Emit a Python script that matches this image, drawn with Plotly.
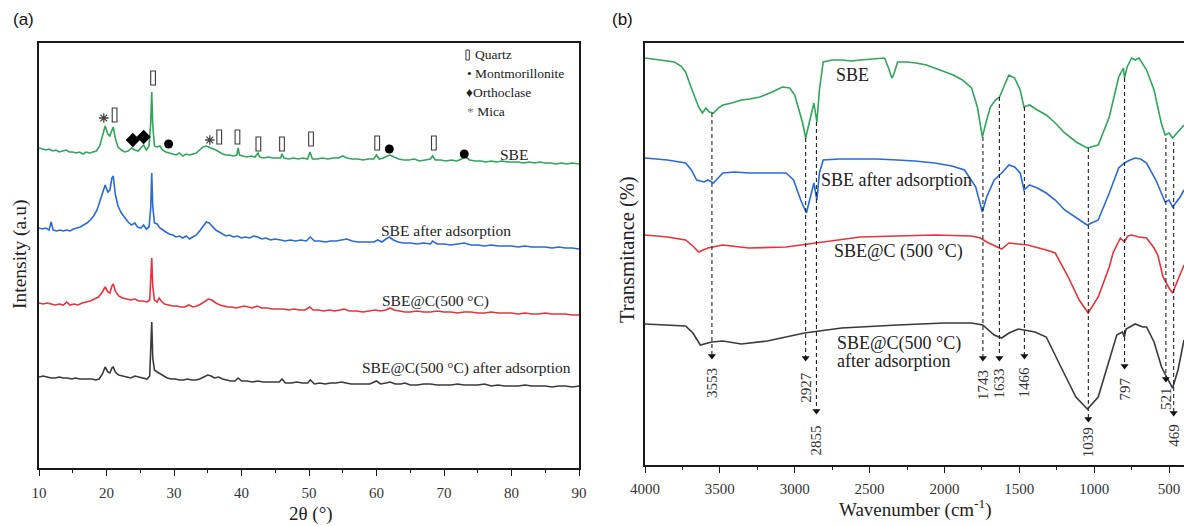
import plotly.graph_objects as go

# ---------------- (a) XRD data ----------------
xrd_2theta_sbe = [10, 10.5, 11, 11.5, 12, 12.5, 13, 13.5, 14, 14.5, 15, 15.5, 16, 16.5, 17, 17.5, 18, 18.5, 19, 19.4, 19.8, 20.2, 20.5, 20.7, 21.0, 21.3, 21.7, 22.2, 22.7, 23.2, 23.7, 24.2, 24.7, 25.2, 25.5, 25.9, 26.3, 26.55, 26.7, 26.85, 27.1, 27.5, 27.9, 28.3, 28.8, 29.3, 29.8, 30.3, 30.8, 31.3, 31.8, 32.3, 32.8, 33.3, 33.8, 34.3, 34.8, 35.2, 35.7, 36.2, 36.7, 37.2, 37.7, 38.2, 38.8, 39.3, 39.5, 39.7, 40.2, 40.8, 41.4, 42.0, 42.45, 42.7, 43.3, 44.0, 44.6, 45.3, 45.8, 46.0, 46.3, 47.0, 47.7, 48.4, 49.1, 49.8, 50.15, 50.5, 51.2, 52.0, 52.8, 53.6, 54.4, 55.0, 55.6, 56.4, 57.2, 58.0, 58.8, 59.6, 60.0, 60.4, 61.0, 61.6, 62.0, 62.6, 63.3, 64.0, 64.8, 65.6, 66.4, 67.2, 68.0, 68.3, 68.7, 69.5, 70.3, 71.1, 71.9, 72.6, 73.2, 73.8, 74.6, 75.4, 76.2, 77.0, 77.8, 78.6, 79.4, 80.2, 81.0, 81.8, 82.6, 83.4, 84.2, 85.0, 85.8, 86.6, 87.4, 88.2, 89.0, 90]
xrd_sbe = [320, 319, 318, 319, 317, 318, 316, 317, 318, 316, 316, 315, 316, 314, 316, 315, 316, 317, 322, 332, 342, 334, 332, 336, 341, 330, 321, 318, 316, 317, 320, 318, 317, 321, 323, 318, 322, 345, 376, 343, 322, 321, 322, 318, 316, 315, 314, 313, 315, 312, 314, 313, 314, 315, 318, 321, 322, 321, 319, 318, 316, 314, 313, 313, 312, 313, 320, 313, 312, 311, 312, 311, 315, 311, 310, 311, 310, 310, 310, 314, 310, 309, 310, 309, 310, 309, 316, 309, 309, 310, 309, 310, 310, 312, 310, 309, 309, 308, 309, 309, 313, 309, 310, 312, 313, 311, 309, 308, 308, 309, 307, 308, 309, 312, 308, 308, 307, 308, 307, 309, 311, 308, 307, 307, 306, 307, 306, 307, 306, 306, 306, 305, 306, 305, 306, 305, 305, 304, 305, 304, 305, 304]

xrd_2theta_ads = [10, 10.5, 11, 11.5, 11.8, 12.1, 12.6, 13.1, 13.6, 14.1, 14.6, 15.1, 15.6, 16.1, 16.6, 17.1, 17.6, 18.1, 18.6, 19.0, 19.4, 19.8, 20.2, 20.5, 20.8, 21.0, 21.3, 21.7, 22.2, 22.7, 23.2, 23.7, 24.2, 24.6, 25.1, 25.5, 25.9, 26.3, 26.55, 26.7, 26.85, 27.1, 27.5, 27.9, 28.3, 28.8, 29.3, 29.8, 30.3, 30.8, 31.3, 31.8, 32.3, 32.8, 33.3, 33.8, 34.3, 34.8, 35.2, 35.7, 36.2, 36.7, 37.2, 37.7, 38.2, 38.8, 39.4, 40.0, 40.6, 41.2, 41.8, 42.4, 43.0, 43.6, 44.3, 45.0, 45.8, 46.5, 47.2, 48.0, 48.8, 49.6, 50.2, 50.8, 51.6, 52.4, 53.2, 54.0, 54.8, 55.6, 56.4, 57.2, 58.0, 58.8, 59.6, 60.2, 60.8, 61.4, 61.9, 62.5, 63.2, 64.0, 65.0, 66.0, 67.0, 68.0, 68.3, 69.0, 70.0, 71.0, 72.0, 73.0, 74.0, 75.0, 76.0, 77.0, 78.0, 79.0, 80.0, 81.0, 82.0, 83.0, 84.0, 85.0, 86.0, 87.0, 88.0, 89.0, 90]
xrd_sbe_ads = [240, 239, 240, 238, 246, 238, 237, 238, 237, 238, 237, 239, 240, 241, 243, 245, 248, 252, 258, 266, 276, 283, 276, 278, 290, 292, 274, 262, 255, 250, 246, 243, 245, 241, 240, 243, 239, 241, 260, 295, 262, 245, 244, 240, 238, 236, 234, 233, 231, 232, 230, 232, 229, 231, 233, 237, 242, 246, 245, 241, 238, 236, 234, 232, 233, 231, 232, 230, 231, 230, 232, 231, 229, 230, 228, 229, 228, 227, 228, 227, 228, 227, 231, 227, 227, 226, 227, 227, 228, 229, 227, 226, 226, 226, 226, 228, 226, 229, 231, 228, 226, 225, 225, 224, 225, 224, 227, 224, 224, 223, 224, 225, 223, 223, 222, 223, 222, 222, 222, 221, 222, 221, 221, 221, 220, 221, 220, 220, 219]

xrd_2theta_c = [10, 10.6, 11.2, 11.8, 12.4, 13.0, 13.6, 14.1, 14.6, 15.2, 15.8, 16.4, 17.0, 17.6, 18.2, 18.8, 19.3, 19.8, 20.2, 20.5, 20.8, 21.0, 21.3, 21.8, 22.4, 23.0, 23.6, 24.2, 24.8, 25.4, 26.0, 26.4, 26.55, 26.7, 26.85, 27.1, 27.5, 27.8, 28.1, 28.6, 29.2, 29.8, 30.4, 31.0, 31.6, 32.2, 32.8, 33.4, 34.0, 34.6, 35.1, 35.6, 36.2, 36.8, 37.4, 38.0, 38.6, 39.2, 39.8, 40.4, 41.0, 41.6, 42.3, 43.0, 43.8, 44.6, 45.4, 46.2, 47.0, 47.8, 48.6, 49.4, 50.1, 50.6, 51.4, 52.2, 53.0, 53.8, 54.6, 55.2, 56.0, 57.0, 58.0, 59.0, 59.8, 60.6, 61.4, 62.0, 62.6, 63.4, 64.2, 65.0, 66.0, 67.0, 68.0, 69.0, 70.0, 71.0, 72.0, 73.0, 74.0, 75.0, 76.0, 77.0, 78.0, 79.0, 80.0, 81.0, 82.0, 83.0, 84.0, 85.0, 86.0, 87.0, 88.0, 89.0, 90]
xrd_sbe_c = [165, 164, 165, 164, 163, 164, 163, 166, 163, 164, 163, 165, 166, 167, 169, 171, 175, 181, 176, 175, 182, 184, 177, 172, 170, 169, 168, 169, 167, 167, 166, 168, 185, 210, 182, 168, 166, 170, 167, 164, 163, 162, 162, 161, 161, 163, 161, 162, 164, 167, 169, 168, 165, 163, 162, 161, 161, 160, 161, 162, 161, 160, 162, 160, 160, 159, 159, 159, 158, 159, 158, 158, 161, 158, 158, 157, 158, 157, 158, 159, 157, 157, 156, 157, 158, 157, 158, 160, 158, 157, 156, 156, 157, 156, 156, 157, 156, 156, 155, 156, 156, 155, 155, 156, 155, 155, 155, 154, 155, 154, 154, 155, 154, 154, 154, 153, 153]

xrd_2theta_c_ads = [10, 10.6, 11.2, 11.8, 12.4, 13.0, 13.6, 14.2, 14.8, 15.4, 16.0, 16.6, 17.2, 17.8, 18.4, 18.9, 19.4, 19.8, 20.2, 20.5, 20.8, 21.0, 21.3, 21.8, 22.4, 23.0, 23.6, 24.2, 24.8, 25.4, 26.0, 26.4, 26.55, 26.7, 26.85, 27.1, 27.5, 28.0, 28.5, 29.0, 29.6, 30.2, 30.8, 31.4, 32.0, 32.6, 33.2, 33.8, 34.4, 35.0, 35.5, 36.0, 36.6, 37.2, 37.8, 38.4, 39.0, 39.5, 40.0, 40.8, 41.6, 42.4, 43.2, 44.0, 44.8, 45.6, 46.0, 46.5, 47.4, 48.2, 49.0, 49.8, 50.2, 50.8, 51.6, 52.4, 53.2, 54.0, 54.8, 55.4, 56.2, 57.0, 58.0, 59.0, 60.0, 60.6, 61.4, 62.0, 62.8, 63.6, 64.2, 65.0, 66.0, 67.0, 68.0, 69.0, 70.0, 71.0, 72.0, 73.0, 74.0, 75.0, 76.0, 77.0, 78.0, 79.0, 80.0, 81.0, 82.0, 83.0, 84.0, 85.0, 86.0, 87.0, 88.0, 89.0, 90]
xrd_sbe_c_ads = [91, 92, 91, 90, 90, 91, 90, 90, 89, 90, 89, 89, 89, 89, 88, 89, 94, 101, 96, 95, 100, 101, 96, 93, 92, 91, 90, 92, 91, 90, 89, 92, 112, 146, 110, 98, 96, 94, 92, 90, 89, 89, 88, 88, 89, 88, 88, 89, 91, 93, 92, 90, 91, 89, 88, 87, 87, 90, 87, 87, 86, 87, 86, 86, 86, 86, 89, 85, 85, 86, 85, 85, 88, 84, 85, 84, 85, 85, 86, 85, 84, 84, 84, 84, 87, 84, 85, 86, 84, 84, 85, 83, 83, 84, 84, 83, 83, 83, 84, 83, 83, 83, 84, 82, 83, 82, 82, 82, 83, 82, 82, 82, 81, 82, 82, 81, 82]

# phase markers on the SBE pattern
quartz_2theta = [21.2, 26.9, 36.7, 39.4, 42.5, 46.0, 50.3, 60.1, 68.5]
quartz_y = [353, 390, 331, 331, 324, 324, 329, 325, 325]
montmor_2theta = [29.2, 61.9, 73.0]
montmor_y = [324, 319, 314]
orthoclase_2theta = [23.9, 25.5]
orthoclase_y = [328, 331]
mica_2theta = [19.6, 35.3]
mica_y = [350, 328]

# ---------------- (b) FTIR data ----------------
ir_wn_sbe = [4000, 3900, 3803, 3760, 3729, 3693, 3660, 3642, 3617, 3593, 3570, 3543, 3510, 3480, 3420, 3357, 3300, 3233, 3150, 3083, 3033, 3000, 2985, 2960, 2947, 2927, 2898, 2872, 2852, 2835, 2810, 2750, 2687, 2620, 2562, 2480, 2400, 2376, 2351, 2340, 2313, 2250, 2189, 2120, 2065, 2000, 1941, 1880, 1819, 1780, 1747, 1718, 1693, 1660, 1632, 1593, 1569, 1531, 1494, 1469, 1432, 1380, 1320, 1260, 1197, 1120, 1047, 973, 899, 836, 805, 797, 780, 750, 726, 700, 650, 600, 552, 526, 500, 476, 440, 400]
ir_sbe = [407, 405, 403, 399, 393, 378, 365, 358, 352, 357, 353, 352, 357, 360, 362, 365, 366, 368, 373, 378, 377, 370, 362, 350, 342, 327, 345, 362, 343, 375, 403, 405, 405, 404, 405, 406, 407, 398, 387, 390, 403, 403, 402, 400, 397, 394, 390, 385, 377, 358, 328, 345, 358, 365, 368, 382, 390, 387, 375, 358, 360, 355, 350, 342, 332, 323, 317, 320, 348, 388, 397, 387, 398, 407, 405, 407, 395, 375, 342, 330, 332, 327, 333, 340]

ir_wn_ads = [4000, 3850, 3729, 3690, 3655, 3605, 3580, 3543, 3480, 3400, 3307, 3200, 3058, 3008, 2960, 2922, 2898, 2872, 2852, 2835, 2810, 2700, 2562, 2450, 2313, 2200, 2065, 1950, 1866, 1791, 1747, 1718, 1668, 1618, 1569, 1531, 1494, 1469, 1432, 1380, 1320, 1260, 1197, 1120, 1047, 973, 899, 836, 799, 760, 726, 690, 650, 588, 526, 500, 476, 426, 400]
ir_sbe_ads = [307, 305, 302, 295, 285, 283, 285, 282, 292, 293, 292, 292, 292, 285, 265, 252, 268, 282, 265, 292, 305, 306, 306, 306, 305, 304, 302, 299, 295, 278, 253, 268, 285, 292, 300, 298, 292, 275, 280, 277, 272, 265, 255, 247, 240, 245, 272, 297, 302, 305, 307, 306, 302, 285, 263, 265, 258, 268, 275]

ir_wn_c = [4000, 3850, 3729, 3680, 3642, 3580, 3480, 3307, 3058, 2810, 2562, 2313, 2065, 1819, 1760, 1718, 1618, 1569, 1500, 1444, 1320, 1260, 1173, 1100, 1040, 973, 899, 874, 825, 799, 775, 750, 700, 650, 600, 575, 540, 500, 476, 440, 400]
ir_sbe_c = [230, 228, 225, 219, 213, 217, 220, 217, 218, 223, 228, 229, 230, 229, 227, 223, 216, 222, 221, 220, 215, 212, 188, 165, 152, 168, 198, 212, 227, 223, 229, 230, 228, 227, 217, 210, 188, 177, 172, 185, 200]

ir_wn_c_ads = [4000, 3850, 3729, 3680, 3630, 3555, 3480, 3357, 3183, 2935, 2687, 2313, 2000, 1819, 1744, 1668, 1618, 1569, 1506, 1395, 1320, 1222, 1122, 1045, 973, 899, 849, 811, 799, 787, 726, 675, 650, 600, 550, 513, 476, 440, 400]
ir_sbe_c_ads = [141, 140, 139, 132, 120, 123, 124, 121, 124, 132, 137, 140, 142, 142, 140, 130, 127, 132, 136, 133, 128, 98, 68, 56, 68, 105, 130, 133, 128, 136, 141, 138, 138, 123, 98, 87, 77, 95, 125]

# band assignments (arrows)
band_wn = [3553, 2927, 2855, 1743, 1633, 1466, 1039, 797, 521, 469]
band_labels = ["3553", "2927", "2855", "1743", "1633", "1466", "1039", "797", "521", "469"]
band_top = [352, 327, 343, 328, 368, 358, 317, 387, 327, 323]
band_tip = [105, 103, 50, 103, 103, 105, 42, 95, 82, 48]
band_label_y = [82, 78, 25, 80, 82, 83, 23, 76, 67, 30]

# ---------------- styling ----------------
GREEN = "#2fa65a"
BLUE = "#2a6ad8"
RED = "#e8323c"
BLACK = "#3a3a3a"
SERIF = "Liberation Serif"
SANS = "Liberation Sans"

fig = go.Figure()

for xs, ys, col in [(xrd_2theta_sbe, xrd_sbe, GREEN), (xrd_2theta_ads, xrd_sbe_ads, BLUE),
                    (xrd_2theta_c, xrd_sbe_c, RED), (xrd_2theta_c_ads, xrd_sbe_c_ads, BLACK)]:
    fig.add_trace(go.Scatter(x=xs, y=ys, mode="lines", line=dict(color=col, width=1.6),
                             xaxis="x", yaxis="y", showlegend=False, hoverinfo="skip"))

shapes = []
# quartz: small open tall rectangles centred on each marker position
for q2t, qy in zip(quartz_2theta, quartz_y + []):
    shapes.append(dict(type="rect", xref="x", yref="y", x0=q2t - 0.35, x1=q2t + 0.35,
                       y0=qy - 7, y1=qy + 7, line=dict(color="#3a3a3a", width=1.1),
                       fillcolor="white"))
# legend quartz symbol
shapes.append(dict(type="rect", xref="x", yref="y", x0=73.25, x1=73.75, y0=408, y1=418,
                   line=dict(color="#3a3a3a", width=1), fillcolor="white"))

fig.add_trace(go.Scatter(x=montmor_2theta, y=montmor_y, mode="markers",
                         marker=dict(symbol="circle", size=9, color="black"),
                         xaxis="x", yaxis="y", showlegend=False, hoverinfo="skip"))
fig.add_trace(go.Scatter(x=orthoclase_2theta, y=orthoclase_y, mode="markers",
                         marker=dict(symbol="diamond", size=11, color="black"),
                         xaxis="x", yaxis="y", showlegend=False, hoverinfo="skip"))
fig.add_trace(go.Scatter(x=mica_2theta, y=mica_y, mode="markers",
                         marker=dict(symbol="asterisk-open", size=8, color="#444",
                                     line=dict(color="#444", width=1.3)),
                         xaxis="x", yaxis="y", showlegend=False, hoverinfo="skip"))

for xs, ys, col in [(ir_wn_sbe, ir_sbe, GREEN), (ir_wn_ads, ir_sbe_ads, BLUE),
                    (ir_wn_c, ir_sbe_c, RED), (ir_wn_c_ads, ir_sbe_c_ads, BLACK)]:
    fig.add_trace(go.Scatter(x=xs, y=ys, mode="lines", line=dict(color=col, width=1.6),
                             xaxis="x2", yaxis="y2", showlegend=False, hoverinfo="skip"))

# dashed band lines
for wn, top, tip in zip(band_wn, band_top, band_tip):
    shapes.append(dict(type="line", xref="x2", yref="y2", x0=wn, x1=wn, y0=top, y1=tip + 4,
                       line=dict(color="#222", width=1.1, dash="4px,3px")))
fig.add_trace(go.Scatter(x=band_wn, y=[t + 4 for t in band_tip], mode="markers",
                         marker=dict(symbol="triangle-down", size=7, color="#111"),
                         xaxis="x2", yaxis="y2", showlegend=False, hoverinfo="skip"))

annotations = []
for wn, lab, ly in zip(band_wn, band_labels, band_label_y):
    annotations.append(dict(x=wn, y=ly, xref="x2", yref="y2", text=lab, showarrow=False,
                            textangle=-90, font=dict(family=SERIF, size=15, color="#333"),
                            xanchor="center", yanchor="middle"))

def ann(text, x, y, xref, yref, size=14, xanchor="center", angle=0, family=SERIF, color="#222"):
    annotations.append(dict(text=text, x=x, y=y, xref=xref, yref=yref, showarrow=False,
                            xanchor=xanchor, yanchor="middle", textangle=angle,
                            font=dict(family=family, size=size, color=color)))

# panel (a) labels
ann("SBE", 80.4, 314, "x", "y", 15.5)
ann("SBE after adsorption", 70.3, 238, "x", "y", 15.5)
ann("SBE@C(500 °C)", 68.7, 167, "x", "y", 15.5)
ann("SBE@C(500 °C) after adsorption", 73.4, 100, "x", "y", 15.5)
ann("Quartz", 74.3, 413, "x", "y", 13.5, "left")
ann("• Montmorillonite", 73.1, 394, "x", "y", 13.5, "left")
ann("♦Orthoclase", 72.9, 375, "x", "y", 13.5, "left")
ann("<span style='color:#777'>*</span> Mica", 73.1, 356, "x", "y", 13.5, "left")

# panel (b) labels
ann("SBE", 2617, 390, "x2", "y2", 18)
ann("SBE after adsorption", 2323, 285, "x2", "y2", 18)
ann("SBE@C (500 °C)", 2310, 214, "x2", "y2", 18)
ann("SBE@C(500 °C)", 2731, 122, "x2", "y2", 18, "left")
ann("after adsorption", 2731, 104, "x2", "y2", 18, "left")

# axis titles & panel letters (paper coords)
ann("Intensity (a.u)", 20 / 1184, 1 - 255 / 526, "paper", "paper", 19.5, angle=-90)
ann("Transmitance (%)", 628 / 1184, 1 - 250 / 526, "paper", "paper", 20.5, angle=-90)
ann("2θ (°)", 311 / 1184, 1 - 514 / 526, "paper", "paper", 19)
ann("Wavenumber (cm<sup>-1</sup>)", 915 / 1184, 1 - 508 / 526, "paper", "paper", 19)
ann("(a)", 23 / 1184, 1 - 20 / 526, "paper", "paper", 17, family=SANS, color="#111")
ann("(b)", 622 / 1184, 1 - 20 / 526, "paper", "paper", 17, family=SANS, color="#111")

axis_common = dict(showline=True, linecolor="#1a1a1a", linewidth=1.6, mirror=True,
                   showgrid=False, zeroline=False, automargin=False)

fig.update_layout(
    width=1184, height=526,
    margin=dict(l=0, r=0, t=0, b=0, pad=0, autoexpand=False),
    paper_bgcolor="white", plot_bgcolor="white",
    font=dict(family=SERIF, color="#222"),
    shapes=shapes, annotations=annotations,
    xaxis=dict(domain=[39 / 1184, 579 / 1184], range=[10, 90], dtick=10, tick0=10,
               ticks="outside", ticklen=6, tickwidth=1.4, tickcolor="#1a1a1a",
               minor=dict(dtick=5, tick0=10, ticks="outside", ticklen=3, tickwidth=1.2, tickcolor="#1a1a1a"),
               tickfont=dict(family=SERIF, size=15, color="#333"), ticklabelstandoff=4,
               anchor="y", **axis_common),
    yaxis=dict(domain=[1 - 468 / 526, 1 - 43 / 526], range=[0, 425], showticklabels=False,
               ticks="", anchor="x", **axis_common),
    xaxis2=dict(domain=[645 / 1184, 1.0], range=[4000, 400], dtick=500, tick0=500,
                ticks="outside", ticklen=6, tickwidth=1.4, tickcolor="#1a1a1a",
                minor=dict(dtick=250, tick0=500, ticks="outside", ticklen=3, tickwidth=1.2, tickcolor="#1a1a1a"),
                tickfont=dict(family=SERIF, size=15, color="#333"), ticklabelstandoff=3,
                anchor="y2", **axis_common),
    yaxis2=dict(domain=[1 - 465 / 526, 1 - 43 / 526], range=[0, 422], showticklabels=False,
                ticks="", anchor="x2", **axis_common),
)

fig.write_html("out.html")
